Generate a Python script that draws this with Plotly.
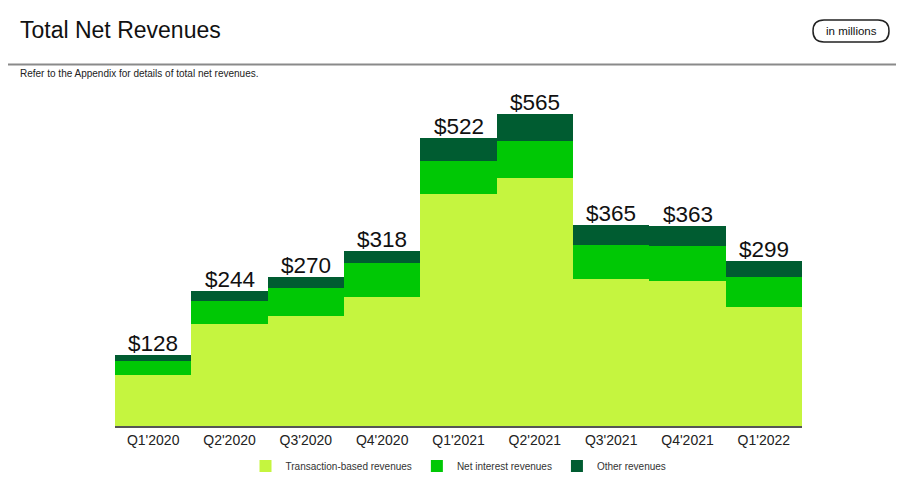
import plotly.graph_objects as go

quarters = ["Q1'2020", "Q2'2020", "Q3'2020", "Q4'2020", "Q1'2021", "Q2'2021", "Q3'2021", "Q4'2021", "Q1'2022"]
transaction_based = [92, 185, 199, 234, 420, 450, 267, 262, 216]
net_interest = [25, 42, 52, 62, 60, 66, 61, 65, 54]
other = [11, 17, 19, 22, 42, 49, 37, 36, 29]
totals = [128, 244, 270, 318, 522, 565, 365, 363, 299]

# the page places the figure 8px in from the top-left corner
OX, OY = 8, 8
W, H = 904 - OX, 478 - OY
L, R, T, B = 115 - OX, 102, 90 - OY, 52
PW, PH = W - L - R, H - T - B


def px(x):
    return (x - OX - L) / PW


def py(y):
    return (H - B - (y - OY)) / PH


fig = go.Figure()
series = [
    ("Transaction-based revenues", transaction_based, "#C5F53F"),
    ("Net interest revenues", net_interest, "#00C805"),
    ("Other revenues", other, "#005C31"),
]
for name, vals, col in series:
    fig.add_trace(go.Bar(
        x=quarters, y=vals, name=name, width=1,
        marker=dict(color=col, line=dict(width=0)),
        hoverinfo="skip",
    ))

value_labels = [
    dict(x=q, y=t, xref="x", yref="y", text=f"${t}", showarrow=False,
         xanchor="center", yanchor="bottom", yshift=-3,
         font=dict(family="Liberation Sans, Arial, sans-serif", size=22.5, color="#111111"))
    for q, t in zip(quarters, totals)
]

# pill path (rounded rectangle) in paper coords
x0, x1, y0, y1, r = 813, 889, 20, 42, 11
pts = [
    f"M{px(x0 + r)},{py(y0)}",
    f"L{px(x1 - r)},{py(y0)}",
    f"Q{px(x1)},{py(y0)} {px(x1)},{py(y0 + r)}",
    f"Q{px(x1)},{py(y1)} {px(x1 - r)},{py(y1)}",
    f"L{px(x0 + r)},{py(y1)}",
    f"Q{px(x0)},{py(y1)} {px(x0)},{py(y0 + r)}",
    f"Q{px(x0)},{py(y0)} {px(x0 + r)},{py(y0)} Z",
]

fig.update_layout(
    width=W, height=H,
    margin=dict(l=L, r=R, t=T, b=B, autoexpand=False),
    paper_bgcolor="white", plot_bgcolor="white",
    barmode="stack", bargap=0,
    font=dict(family="Liberation Sans, Arial, sans-serif", color="#222222"),
    xaxis=dict(
        showline=True, linecolor="#555555", linewidth=1.5,
        ticks="", tickfont=dict(size=14, color="#222222"), ticklabelstandoff=0,
        showgrid=False, range=[-0.5, 8.5], fixedrange=True,
    ),
    yaxis=dict(visible=False, range=[0, PH / 0.5517], showgrid=False, fixedrange=True),
    showlegend=True,
    legend=dict(
        orientation="h", x=0.5, xanchor="center", y=py(466), yanchor="middle",
        font=dict(size=10, color="#333333"), traceorder="normal",
        itemwidth=30,
    ),
    shapes=[
        dict(type="line", xref="paper", yref="paper", x0=px(0), x1=px(904), y0=py(64.5), y1=py(64.5),
             line=dict(color="#8a8a8a", width=2)),
        dict(type="path", xref="paper", yref="paper", path=" ".join(pts),
             line=dict(color="#222222", width=1.5), fillcolor="white"),
    ],
    annotations=value_labels + [
        dict(text="Total Net Revenues", xref="paper", yref="paper", x=px(18), y=py(30),
             xanchor="left", yanchor="middle", showarrow=False,
             font=dict(size=23, color="#111111")),
        dict(text="Refer to the Appendix for details of total net revenues.", xref="paper", yref="paper",
             x=px(18), y=py(74), xanchor="left", yanchor="middle", showarrow=False,
             font=dict(size=10, color="#222222")),
        dict(text="in millions", xref="paper", yref="paper", x=px(851), y=py(31),
             xanchor="center", yanchor="middle", showarrow=False,
             font=dict(size=11.5, color="#111111")),
    ],
)

fig.write_html("out.html")
